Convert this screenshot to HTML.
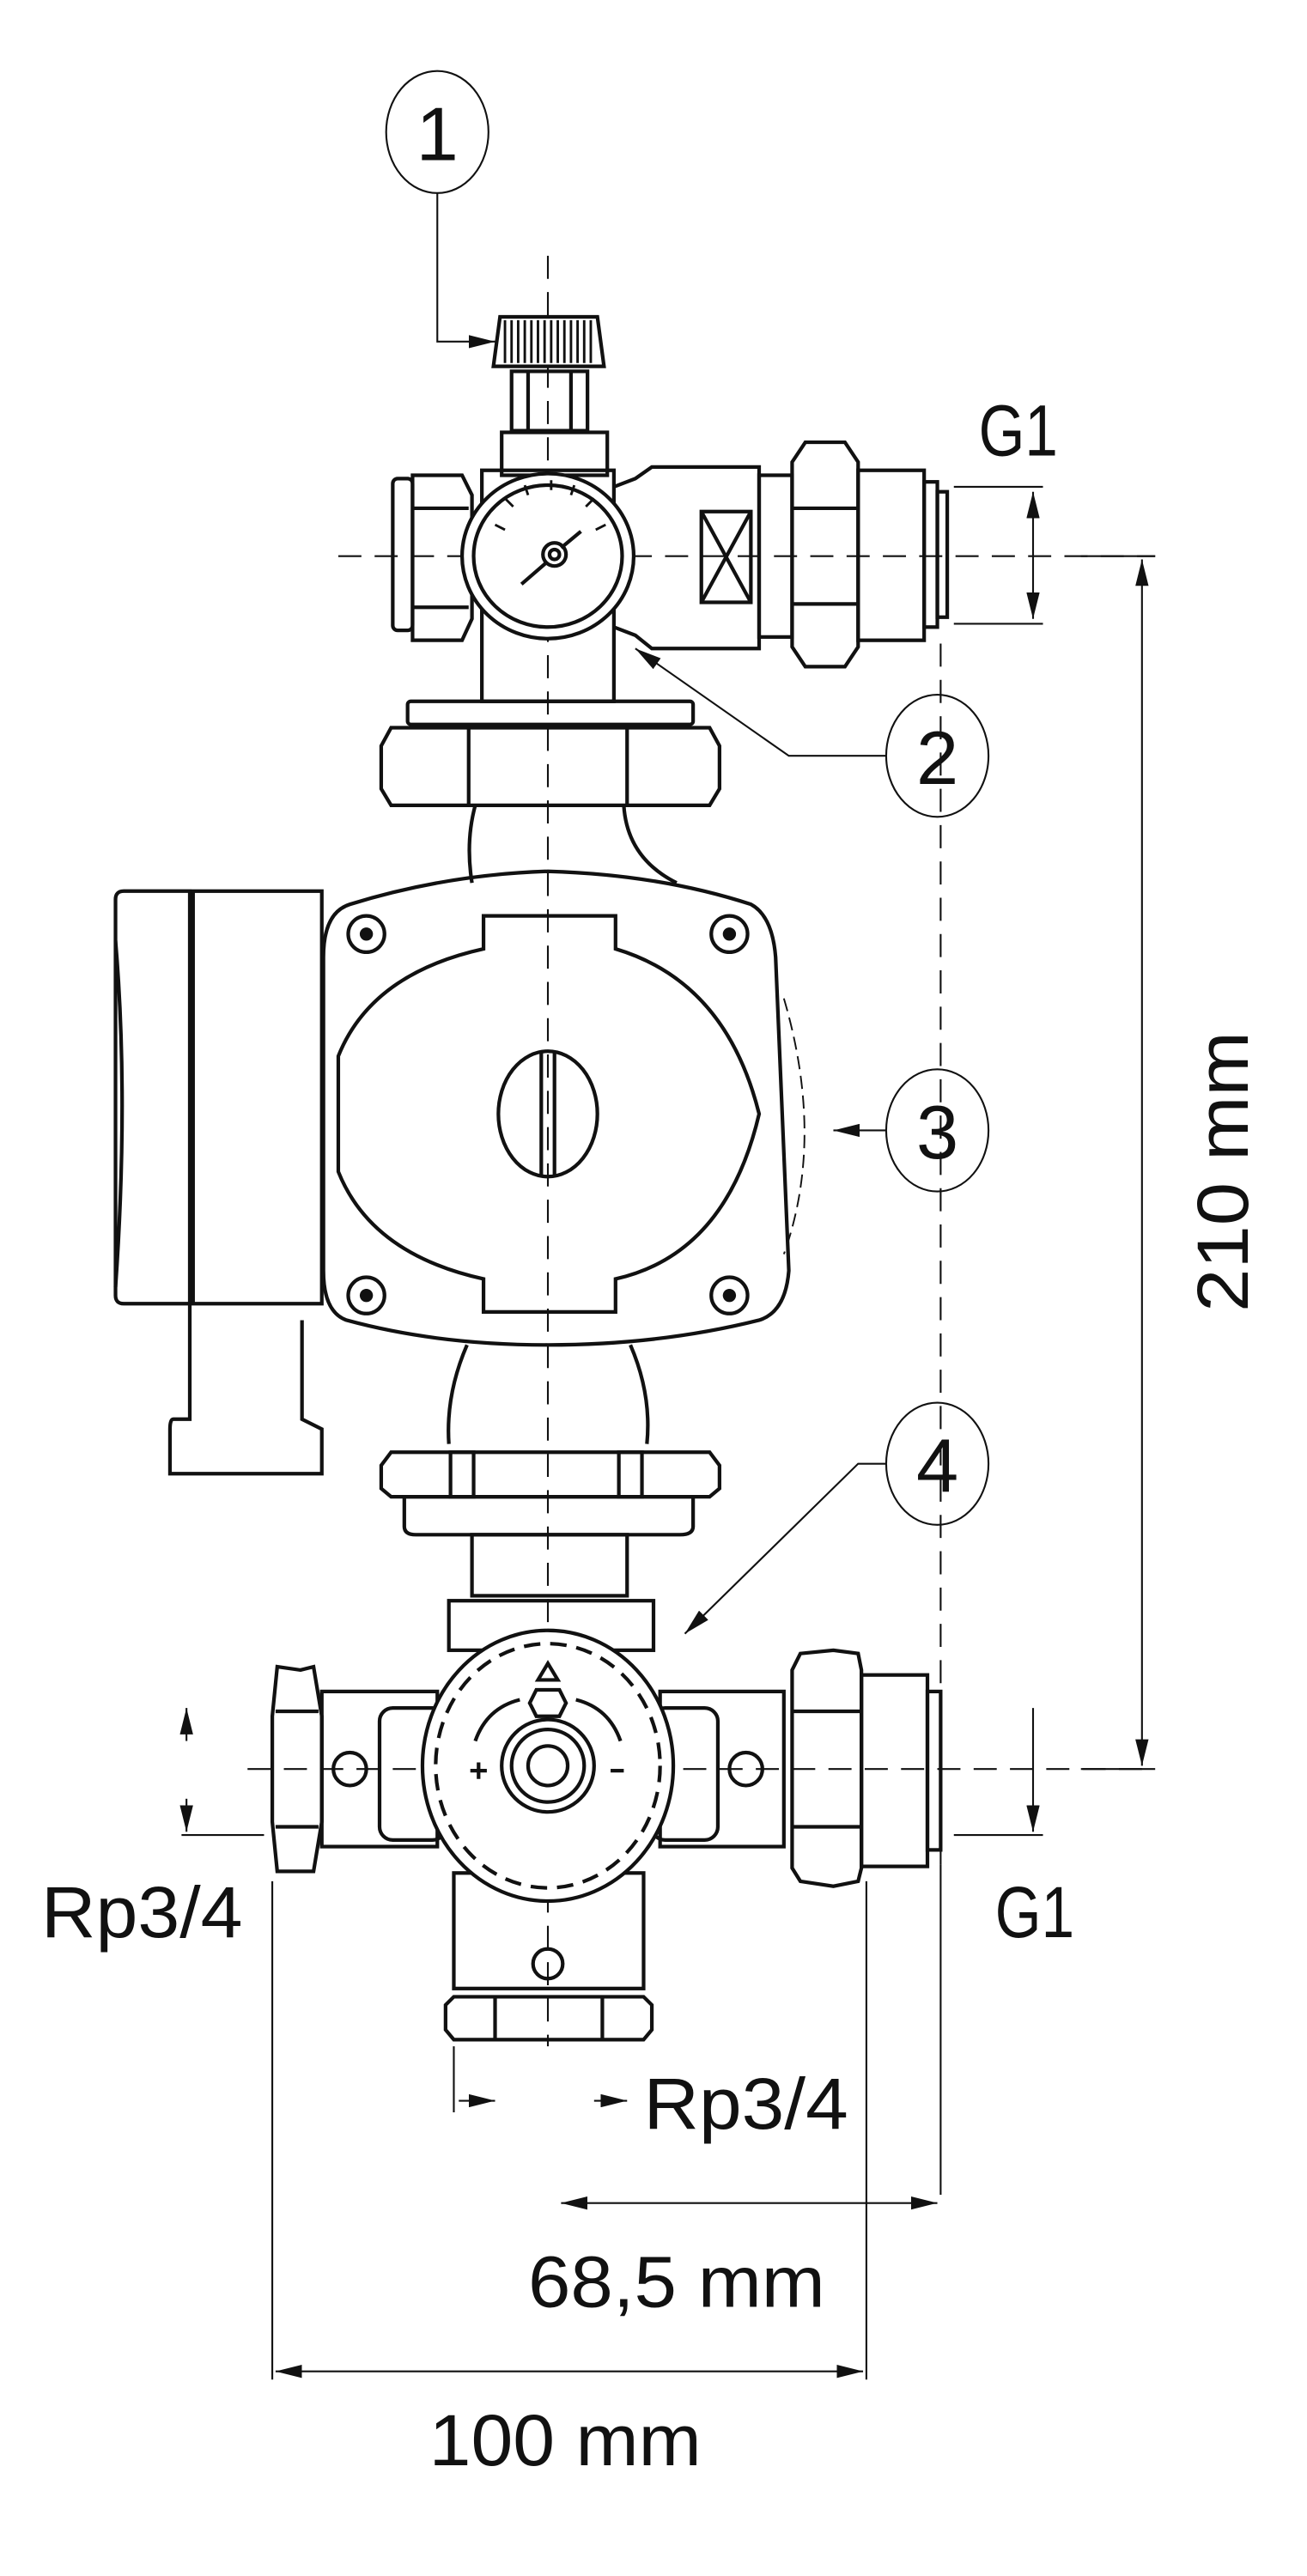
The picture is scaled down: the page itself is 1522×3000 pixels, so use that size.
<!DOCTYPE html>
<html><head><meta charset="utf-8"><style>
html,body{margin:0;padding:0;background:#fff;}
svg{display:block;}
text{font-family:"Liberation Sans",sans-serif;fill:#111;}
</style></head><body>
<svg width="1522" height="3000" viewBox="0 0 792 1561" preserveAspectRatio="none" xmlns="http://www.w3.org/2000/svg">
<defs>
<marker id="b" viewBox="0 0 16 8" refX="16" refY="4" markerWidth="16" markerHeight="8" orient="auto-start-reverse" markerUnits="userSpaceOnUse"><path d="M0,0 L16,4 L0,8 z" fill="#111"/></marker>
</defs>
<g fill="none" stroke="#111" stroke-width="1.1">
<line x1="332" y1="155" x2="332" y2="1240" stroke-dasharray="14,8"/>
<line x1="205" y1="337" x2="700" y2="337" stroke-dasharray="14,8"/>
<line x1="150" y1="1072" x2="700" y2="1072" stroke-dasharray="14,8"/>
<line x1="570" y1="390" x2="570" y2="1130" stroke-dasharray="14,8"/>
<ellipse cx="265" cy="80" rx="31" ry="37"/>
<polyline points="265,117 265,207 300,207" marker-end="url(#b)"/>
<ellipse cx="568" cy="458" rx="31" ry="37"/>
<polyline points="537,458 478,458 385,393" marker-end="url(#b)"/>
<ellipse cx="568" cy="685" rx="31" ry="37"/>
<line x1="537" y1="685" x2="505" y2="685" marker-end="url(#b)"/>
<ellipse cx="568" cy="887" rx="31" ry="37"/>
<polyline points="537,887 520,887 415,990" marker-end="url(#b)"/>
<line x1="578" y1="295" x2="632" y2="295"/><line x1="578" y1="378" x2="632" y2="378"/>
<line x1="626" y1="298" x2="626" y2="375" marker-start="url(#b)" marker-end="url(#b)"/>
<line x1="655" y1="337" x2="700" y2="337"/><line x1="655" y1="1072" x2="700" y2="1072"/>
<line x1="692" y1="339" x2="692" y2="1070" marker-start="url(#b)" marker-end="url(#b)"/>
<line x1="578" y1="1112" x2="632" y2="1112"/>
<line x1="626" y1="1035" x2="626" y2="1110" marker-end="url(#b)"/>
<line x1="110" y1="1112" x2="160" y2="1112"/>
<line x1="113" y1="1035" x2="113" y2="1055" marker-start="url(#b)"/>
<line x1="113" y1="1090" x2="113" y2="1110" marker-end="url(#b)"/>
<line x1="275" y1="1240" x2="275" y2="1280"/>
<line x1="278" y1="1273" x2="300" y2="1273" marker-end="url(#b)"/>
<line x1="360" y1="1273" x2="380" y2="1273" marker-end="url(#b)"/>
<line x1="570" y1="1130" x2="570" y2="1330"/>
<line x1="525" y1="1140" x2="525" y2="1442"/>
<line x1="165" y1="1140" x2="165" y2="1442"/>
<line x1="340" y1="1335" x2="568" y2="1335" marker-start="url(#b)" marker-end="url(#b)"/>
<line x1="167" y1="1437" x2="523" y2="1437" marker-start="url(#b)" marker-end="url(#b)"/>
</g>
<g fill="none" stroke="#111" stroke-width="2.2">
<path d="M303,192 L362,192 L366,222 L299,222 Z" fill="#fff"/>
<g stroke-width="1.5"><path d="M306,194v26M310,194v26M314,194v26M318,194v26M322,194v26M326,194v26M330,194v26M334,194v26M338,194v26M342,194v26M346,194v26M350,194v26M354,194v26M358,194v26"/></g>
<rect x="310" y="225" width="46" height="36"/>
<line x1="320" y1="225" x2="320" y2="261"/><line x1="346" y1="225" x2="346" y2="261"/>
<rect x="304" y="262" width="64" height="26"/>
<rect x="238" y="290" width="12" height="92" rx="3"/>
<path d="M250,288 L280,288 L286,300 L286,375 L280,388 L250,388 Z"/>
<line x1="250" y1="308" x2="284" y2="308"/><line x1="250" y1="368" x2="284" y2="368"/>
<rect x="292" y="285" width="80" height="140"/>
<ellipse cx="332" cy="337" rx="52" ry="50" fill="#fff"/>
<ellipse cx="332" cy="337" rx="45" ry="43"/>
<circle cx="336" cy="336" r="7"/><circle cx="336" cy="336" r="3"/>
<line x1="331" y1="341" x2="316" y2="354"/><line x1="340" y1="332" x2="352" y2="322"/>
<g stroke-width="1.5"><path d="M300,318l6,3M306,302l5,5M318,294l2,6M334,291v6M348,294l-2,6M360,302l-5,5M367,318l-6,3"/></g>
<path d="M372,295 L385,290 L395,283 L460,283 L460,393 L395,393 L385,385 L372,380"/>
<rect x="425" y="310" width="30" height="55"/>
<line x1="425" y1="310" x2="455" y2="365"/><line x1="455" y1="310" x2="425" y2="365"/>
<rect x="460" y="288" width="20" height="98"/>
<path d="M480,280 L488,268 L512,268 L520,280 L520,392 L512,404 L488,404 L480,392 Z"/>
<line x1="480" y1="308" x2="520" y2="308"/><line x1="480" y1="366" x2="520" y2="366"/>
<rect x="520" y="285" width="40" height="103"/>
<rect x="560" y="292" width="8" height="88"/><rect x="568" y="298" width="6" height="76"/>
<rect x="247" y="425" width="173" height="14" rx="2"/>
<path d="M237,441 L430,441 L436,452 L436,478 L430,488 L237,488 L231,478 L231,452 Z"/>
<line x1="284" y1="441" x2="284" y2="488"/><line x1="380" y1="441" x2="380" y2="488"/>
<path d="M288,488 Q282,510 286,535"/><path d="M378,488 Q380,520 410,535"/>
<path d="M75,540 L115,540 L115,790 L75,790 Q70,790 70,785 L70,545 Q70,540 75,540 Z"/>
<rect x="117" y="540" width="78" height="250"/>
<path d="M70,570 Q78,665 70,780"/>
<path d="M115,790 L115,860 L105,860 Q103,860 103,866 L103,893 L195,893 L195,866 L183,860 L183,800"/>
<path d="M212,548 Q270,530 332,528 Q400,530 455,548 Q468,555 470,580 L478,770 Q476,795 460,800 Q400,815 332,815 Q265,815 210,800 Q196,795 196,770 L196,580 Q196,553 212,548 Z"/>
<path d="M475,605 Q500,690 475,760" stroke-width="1" stroke-dasharray="8,4"/>
<path d="M293,575 L293,555 L373,555 L373,575 Q440,595 460,675 Q440,760 373,775 L373,795 L293,795 L293,775 Q225,760 205,710 L205,640 Q225,590 293,575 Z"/>
<ellipse cx="332" cy="675" rx="30" ry="38"/>
<line x1="328" y1="637" x2="328" y2="713"/><line x1="336" y1="637" x2="336" y2="713"/>
<circle cx="222" cy="566" r="11"/><circle cx="442" cy="566" r="11"/>
<circle cx="222" cy="785" r="11"/><circle cx="442" cy="785" r="11"/>
<g fill="#111" stroke="none"><circle cx="222" cy="566" r="4"/><circle cx="442" cy="566" r="4"/><circle cx="222" cy="785" r="4"/><circle cx="442" cy="785" r="4"/></g>
<path d="M283,815 Q270,845 272,875"/><path d="M382,815 Q395,845 392,875"/>
<path d="M237,880 L430,880 L436,888 L436,902 L430,907 L237,907 L231,902 L231,888 Z"/>
<rect x="273" y="880" width="14" height="27"/><rect x="375" y="880" width="14" height="27"/>
<path d="M245,907 L420,907 L420,925 Q420,930 412,930 L252,930 Q245,930 245,925 Z"/>
<rect x="286" y="930" width="94" height="37"/>
<rect x="272" y="970" width="124" height="30"/>
<path d="M182,1012 L190,1010 L195,1040 L195,1104 L190,1134 L182,1134 L168,1134 L165,1104 L165,1040 L168,1010 Z"/>
<line x1="167" y1="1037" x2="193" y2="1037"/><line x1="167" y1="1107" x2="193" y2="1107"/>
<rect x="195" y="1025" width="70" height="94"/>
<rect x="230" y="1035" width="40" height="80" rx="8"/>
<circle cx="212" cy="1072" r="10"/>
<rect x="400" y="1025" width="75" height="94"/>
<rect x="395" y="1035" width="40" height="80" rx="8"/>
<circle cx="452" cy="1072" r="10"/>
<path d="M480,1012 L485,1002 L505,1000 L520,1002 L522,1012 L522,1132 L520,1140 L505,1143 L485,1140 L480,1132 Z"/>
<line x1="480" y1="1037" x2="522" y2="1037"/><line x1="480" y1="1107" x2="522" y2="1107"/>
<rect x="522" y="1015" width="40" height="116"/>
<rect x="562" y="1025" width="8" height="96"/>
<rect x="275" y="1135" width="115" height="70"/>
<circle cx="332" cy="1190" r="9"/>
<path d="M275,1210 L390,1210 L395,1215 L395,1230 L390,1236 L275,1236 L270,1230 L270,1215 Z"/>
<line x1="300" y1="1210" x2="300" y2="1236"/><line x1="365" y1="1210" x2="365" y2="1236"/>
<ellipse cx="332" cy="1070" rx="76" ry="82" fill="#fff"/>
<ellipse cx="332" cy="1070" rx="68" ry="74" stroke-dasharray="10,6"/>
<circle cx="332" cy="1070" r="28"/><circle cx="332" cy="1070" r="22"/><circle cx="332" cy="1070" r="12"/>
<path d="M326,1018 L332,1008 L338,1018 Z"/>
<path d="M325,1024 L339,1024 L343,1032 L339,1040 L325,1040 L321,1032 Z"/>
<path d="M288,1055 Q295,1035 315,1030"/><path d="M376,1055 Q369,1035 349,1030"/>
<path d="M285,1073 h10 M290,1068 v10"/><path d="M370,1073 h8"/>
</g>
<text x="265" y="97" font-size="46" text-anchor="middle">1</text>
<text x="568" y="475" font-size="46" text-anchor="middle">2</text>
<text x="568" y="702" font-size="46" text-anchor="middle">3</text>
<text x="568" y="904" font-size="46" text-anchor="middle">4</text>
<text x="593" y="276" font-size="44" textLength="48" lengthAdjust="spacingAndGlyphs">G1</text>
<text x="603" y="1174" font-size="44" textLength="48" lengthAdjust="spacingAndGlyphs">G1</text>
<text x="25" y="1174" font-size="44" textLength="122" lengthAdjust="spacingAndGlyphs">Rp3/4</text>
<text x="390" y="1290" font-size="44" textLength="124" lengthAdjust="spacingAndGlyphs">Rp3/4</text>
<text x="320" y="1398" font-size="44" textLength="180" lengthAdjust="spacingAndGlyphs">68,5 mm</text>
<text x="260" y="1494" font-size="44" textLength="165" lengthAdjust="spacingAndGlyphs">100 mm</text>
<text transform="translate(756,710) rotate(-90)" font-size="44" text-anchor="middle" textLength="170" lengthAdjust="spacingAndGlyphs">210 mm</text>
</svg>
</body></html>
